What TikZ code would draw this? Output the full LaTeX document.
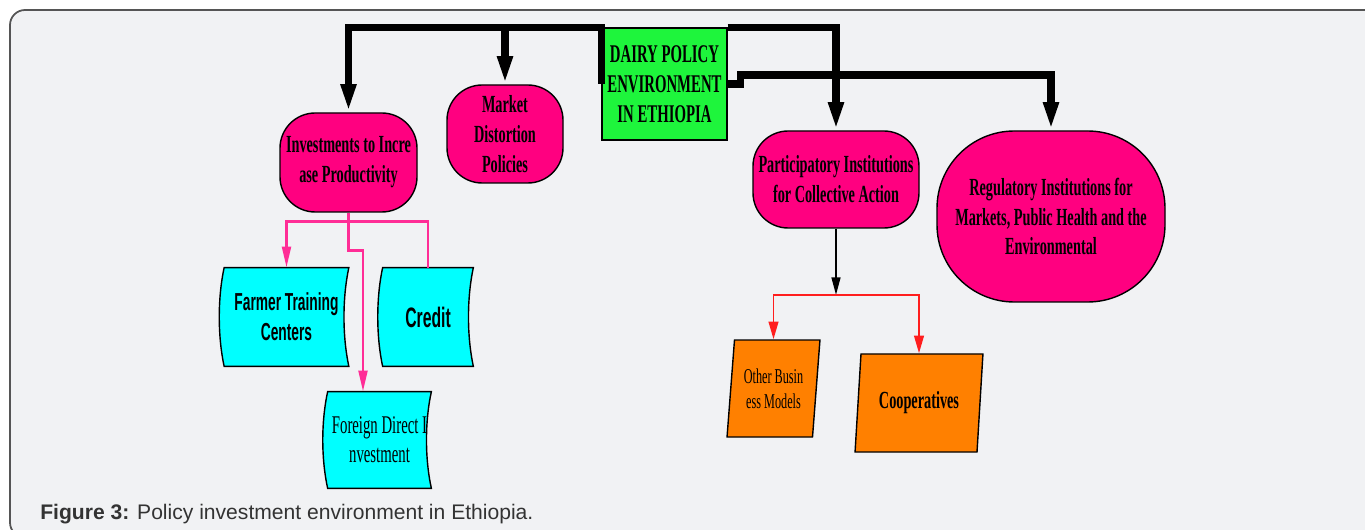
\documentclass[tikz,border=0pt]{standalone}
\usepackage{fontspec}
\setmainfont{Liberation Serif}
\newfontfamily\narrowserif[FakeStretch=0.58]{Liberation Serif}
\newfontfamily\narrowsans[FakeStretch=0.56]{Liberation Sans}
\newfontfamily\capsans{Liberation Sans}
\usetikzlibrary{arrows.meta,shapes.geometric,backgrounds}

\definecolor{panelgray}{RGB}{241,242,244}
\definecolor{framegray}{RGB}{85,85,85}
\definecolor{dairygreen}{RGB}{30,245,60}
\definecolor{policypink}{RGB}{255,0,128}
\definecolor{linkpink}{RGB}{255,45,150}
\definecolor{linkred}{RGB}{255,30,30}
\definecolor{toolcyan}{RGB}{0,255,255}
\definecolor{modelorange}{RGB}{255,128,0}
\definecolor{captiongray}{RGB}{51,51,51}

\begin{document}
\begin{tikzpicture}[
  policy/.style={draw=black, line width=0.8pt, fill=policypink, rounded corners=20pt,
    align=center, inner sep=0pt, font=\narrowserif\bfseries\fontsize{14}{17}\selectfont},
  tool/.style={align=center, inner sep=0pt},
  model/.style={draw=black, line width=0.8pt, fill=modelorange, shape=trapezium,
    trapezium stretches=true, align=center, inner sep=0pt},
  bus/.style={line width=4pt, -{Triangle[length=16pt,width=8pt]}},
  pinklink/.style={draw=linkpink, line width=1.6pt},
  redlink/.style={draw=linkred, line width=1.1pt, -{Triangle[length=10pt,width=5.5pt]}},
  tapeline/.style={draw=black, line width=0.8pt, fill=toolcyan}
]
\useasboundingbox (0,0) rectangle (27.3,-10.6);
\clip (0,0) rectangle (27.3,-10.6);

  % top level
  \node (dairy) at (13.29,-1.68) [draw=black, line width=0.8pt, fill=dairygreen,
    minimum width=2.5cm, minimum height=2.24cm, inner sep=0pt, align=center,
    font=\narrowserif\bfseries\fontsize{14.5}{17}\selectfont]
    {DAIRY POLICY\\ENVIRONMENT\\IN ETHIOPIA};

  \node (invest) at (6.97,-3.25) [policy, minimum width=2.74cm, minimum height=1.98cm]
    {Investments to Incre\\ase Productivity};
  \node (market) at (10.10,-2.68) [policy, minimum width=2.32cm, minimum height=1.96cm]
    {Market\\Distortion\\Policies};
  \node (partic) at (16.72,-3.59) [policy, minimum width=3.32cm, minimum height=1.94cm]
    {Participatory Institutions\\for Collective Action};
  \node (regul) at (21.02,-4.33) [policy, rounded corners=44pt, minimum width=4.56cm, minimum height=3.42cm]
    {Regulatory Institutions for\\Markets, Public Health and the\\Environmental};

  % investment tools
  \node (farmer) at (5.73,-6.34) [tool, minimum width=2.48cm, minimum height=1.96cm,
    font=\narrowsans\bfseries\fontsize{14}{17}\selectfont] {Farmer Training\\Centers};
  \node (credit) at (8.56,-6.34) [tool, minimum width=1.80cm, minimum height=1.96cm,
    font=\narrowsans\bfseries\fontsize{16}{19}\selectfont] {Credit};
  \node (fdi) at (7.59,-8.80) [tool, minimum width=2.06cm, minimum height=1.92cm,
    font=\narrowserif\fontsize{14.5}{16.5}\selectfont] {Foreign Direct I\\nvestment};

  % collective action models
  \node (other) at (15.47,-7.77) [model, trapezium left angle=81.8, trapezium right angle=98.2,
    minimum width=1.86cm, minimum height=1.94cm,
    font=\narrowserif\fontsize{12}{14}\selectfont] {Other Busin\\ess Models};
  \node (coop) at (18.38,-8.06) [model, trapezium left angle=79.6, trapezium right angle=100.4,
    minimum width=2.56cm, minimum height=1.96cm,
    font=\narrowserif\bfseries\fontsize{14}{17}\selectfont] {Cooperatives};
  \coordinate (split) at (16.72,-5.90);

  \node (caption) at (0.8,-10.38) [anchor=base west, inner sep=0pt, text=captiongray,
    font=\capsans\fontsize{12}{14}\selectfont]
    {\textbf{Figure 3:} Policy investment environment in Ethiopia.};

  % thick policy arrows
  \draw [bus] (dairy.west) -- (dairy.north west) -| (invest.north);
  \draw [bus] (market.north |- dairy.north) -- (market.north);
  \draw [bus] (dairy.north east) -| (partic.north);
  \draw [bus] (dairy.east) -- ++(0.26,0) -- ++(0,0.18) -| (regul.north);

  % investment links
  \draw [pinklink, -{Triangle[length=12pt,width=5pt]}] (invest.south) -- ++(0,-0.18) -| (farmer.north);
  \draw [pinklink] (invest.south) -- ++(0,-0.18) -| (credit.north);
  \draw [pinklink, -{Triangle[length=12pt,width=5pt]}] (invest.south) -- ++(0,-0.76) -| ([xshift=-0.33cm]fdi.north);

  % collective action links
  \draw [line width=1.1pt, -{Triangle[length=10pt,width=5pt]}] (partic.south) -- (split);
  \draw [redlink] (split) -| (other.north);
  \draw [redlink] (split) -| (coop.north);

  \begin{scope}[on background layer]
    \draw [draw=framegray, line width=1pt, fill=panelgray, rounded corners=0.3cm]
      (0.2,-0.2) rectangle (27.8,-10.75);
    \foreach \t in {farmer,credit,fdi}
      \draw [tapeline] (\t.north west) -- (\t.north east)
        .. controls +(-0.13,-0.6) and +(-0.13,0.6) .. (\t.south east)
        -- (\t.south west)
        .. controls +(-0.13,0.6) and +(-0.13,-0.6) .. (\t.north west) -- cycle;
  \end{scope}

\end{tikzpicture}
\end{document}
